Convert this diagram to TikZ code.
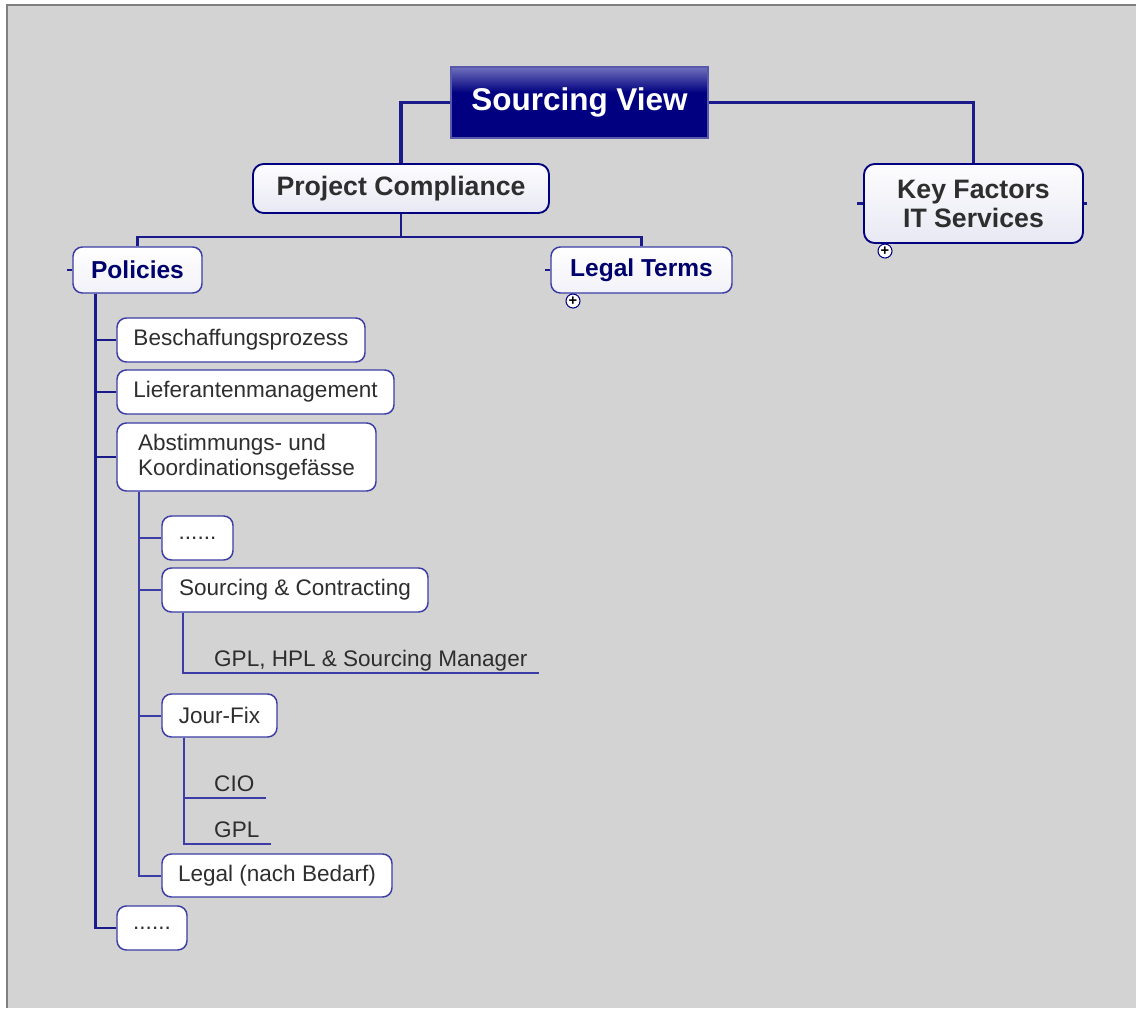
\documentclass[tikz,border=0pt]{standalone}
\usepackage{fontspec}
\setmainfont{Liberation Sans}
\usepackage{xcolor}
\usetikzlibrary{positioning, calc}
\definecolor{MapNavy}{HTML}{000080}
\definecolor{MapLine}{HTML}{1A1A8A}
\definecolor{MapBorder}{HTML}{3C3CA6}
\definecolor{MapCanvas}{HTML}{D3D3D3}
\definecolor{MapFrame}{HTML}{7F7F7F}
\definecolor{MapText}{HTML}{2E2E2E}
\definecolor{MapLilac}{HTML}{E8E8F4}
\pgfdeclareverticalshading{rootband}{100bp}{rgb(0bp)=(0,0,0.5); rgb(25bp)=(0,0,0.5); rgb(57bp)=(0,0,0.5);
  rgb(75bp)=(0.44,0.44,0.74); rgb(100bp)=(0.44,0.44,0.74)}

\tikzset{
  rootnode/.style={draw=MapNavy!65!white, line width=0.9pt, shading=rootband,
    text=white, font=\fontsize{23.6}{26}\selectfont\bfseries, inner sep=0pt},
  mainnode/.style={draw=MapNavy, line width=1.4pt, rounded corners=8pt, top color=white!92!MapLilac, bottom color=MapLilac,
    text=MapText, font=\fontsize{20}{21.75}\selectfont\bfseries, inner sep=0pt, align=center},
  subnode/.style={draw=MapBorder, line width=1.1pt, rounded corners=7pt, top color=white, bottom color=MapLilac!60!white,
    text=MapNavy!85!black, font=\fontsize{18.4}{20}\selectfont\bfseries, inner sep=0pt},
  itemnode/.style={draw=MapBorder, line width=1.1pt, rounded corners=7pt, fill=white,
    text=MapText, font=\fontsize{16.9}{18.75}\selectfont, inner sep=0pt, align=left, minimum height=33pt},
  leafnode/.style={anchor=south west, text=MapText, font=\fontsize{16.9}{18.75}\selectfont,
    inner xsep=0pt, inner ysep=0pt, text depth=0pt, minimum height=22pt, text height=13pt},
  expander/.style={circle, draw=MapNavy, line width=0.8pt, fill=white, inner sep=0pt, minimum size=10.5pt,
    font=\fontsize{11}{11}\selectfont\bfseries},
  trunk/.style={draw=MapLine, line width=2.8pt},
  branch/.style={draw=MapLine, line width=1.6pt},
  twig/.style={draw=MapBorder, line width=1.5pt}
}

\begin{document}
\begin{tikzpicture}[x=0.75pt, y=-0.75pt]
% Canvas
\useasboundingbox (0,0) rectangle (1136,1008);
\fill[MapCanvas] (7,5) rectangle (1136,1008);
\draw[MapFrame, line width=1.5pt] (7,1008) -- (7,5) -- (1136,5);

% Nodes
\node[rootnode, shade, minimum width=192.75pt, minimum height=53.25pt] (root) at (579.5,102.5) {Sourcing View};
\node[mainnode, minimum width=222pt, minimum height=36.75pt] (compliance) at (401,188.5) {Project Compliance};
\node[mainnode, minimum width=164.25pt, minimum height=59.25pt] (keyfactors) at (973.5,203.5) {Key Factors\\IT Services};
\node[subnode, minimum width=96.75pt, minimum height=34.5pt] (policies) at (137.5,270) {Policies};
\node[subnode, minimum width=135.75pt, minimum height=34.5pt] (legalterms) at (641.5,270) {Legal Terms};
\node[expander] (kfplus) at (885,251) {+};
\node[expander] (ltplus) at (573,301) {+};

\node[itemnode, minimum width=186pt] (beschaffung) at (241,340) {Beschaffungsprozess};
\node[itemnode, minimum width=207.75pt] (lieferanten) at (255.5,392) {Lieferantenmanagement};
\node[itemnode, minimum width=194.25pt, minimum height=51pt] (abstimmung) at (246.5,457) {Abstimmungs- und\\Koordinationsgefässe};
\node[itemnode, minimum width=53.25pt] (dotsA) at (197.5,538) {......};
\node[itemnode, minimum width=199.5pt] (contracting) at (295,590) {Sourcing \& Contracting};
\node[itemnode, minimum width=86.25pt, minimum height=32.25pt] (jourfix) at (219.5,715.5) {Jour-Fix};
\node[itemnode, minimum width=172.5pt, minimum height=32.25pt] (legal) at (277,875.5) {Legal (nach Bedarf)};
\node[itemnode, minimum width=52.5pt] (dotsB) at (152,928) {......};

\node[leafnode, minimum width=251.25pt] (managers) at (203,673) {GPL, HPL \& Sourcing Manager};
\node[leafnode, minimum width=46.5pt] (cio) at (203,798) {CIO};
\node[leafnode, minimum width=50.25pt] (gpl) at (203,844) {GPL};

% Connectors from the root
\draw[trunk] (root.west) -| (compliance.north);
\draw[trunk] (root.east) -| (keyfactors.north);
\draw[branch] (compliance.south) -- ++(0,23) coordinate (fork);
\draw[branch] (fork) -| (policies.north);
\draw[branch] (fork) -| (legalterms.north);

% Stubs
\draw[branch] (policies.west) -- ++(-5,0);
\draw[branch] (legalterms.west) -- ++(-5,0);
\draw[branch] (keyfactors.west) -- ++(-6,0);
\draw[branch] (keyfactors.east) -- ++(3,0);

% Policies
\coordinate (polspine) at ($(policies.south west)+(23,0)$);
\foreach \child in {beschaffung, lieferanten, abstimmung, dotsB}
  \draw[branch, line width=2.2pt] (polspine) |- (\child.west);

% Abstimmungs- und Koordinationsgefaesse
\coordinate (abspine) at ($(abstimmung.south west)+(23,0)$);
\foreach \child in {dotsA, contracting, jourfix, legal}
  \draw[twig] (abspine) |- (\child.west);

% Leaves
\draw[twig] ($(contracting.south west)+(22,0)$) |- (managers.south west) -- (managers.south east);
\draw[twig] ($(jourfix.south west)+(23,0)$) |- (cio.south west) -- (cio.south east);
\draw[twig] ($(jourfix.south west)+(23,0)$) |- (gpl.south west) -- (gpl.south east);
\end{tikzpicture}
\end{document}
